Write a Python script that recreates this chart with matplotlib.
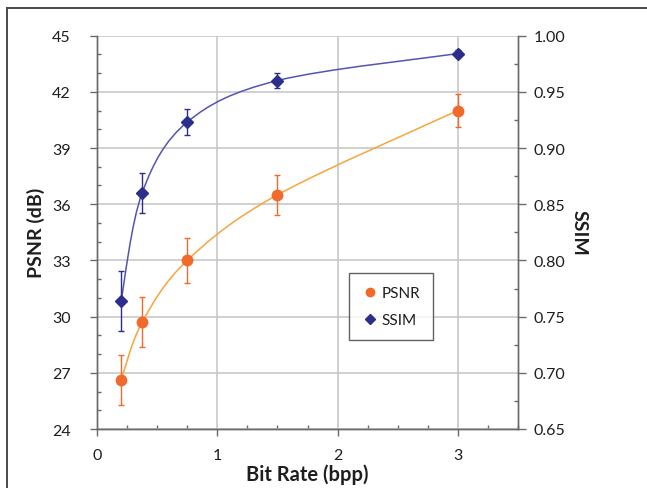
import numpy as np
import matplotlib
matplotlib.use("Agg")
import matplotlib.pyplot as plt
from matplotlib.path import Path
from matplotlib.patches import PathPatch
from matplotlib.lines import Line2D
from matplotlib.ticker import MultipleLocator, FormatStrFormatter

# Rate-distortion results
bit_rate = [0.2, 0.375, 0.75, 1.5, 3.0]
psnr = [26.6, 29.7, 33.0, 36.5, 41.0]
psnr_err = [1.33, 1.33, 1.2, 1.05, 0.9]
ssim = [0.764, 0.860, 0.923, 0.960, 0.984]
ssim_err = [0.027, 0.0176, 0.0114, 0.0067, 0.003]

psnr_ticks = [24, 27, 30, 33, 36, 39, 42, 45]
ssim_ticks = [0.65, 0.70, 0.75, 0.80, 0.85, 0.90, 0.95, 1.00]
x_ticks = [0, 1, 2, 3]

ORANGE = "#F26A2B"
ORANGE_LINE = "#F9A43C"
NAVY = "#2C2E8E"
NAVY_LINE = "#5454B4"
TXT = "#1e1e1e"
SPINE = "#6a6a6a"

plt.rcParams["font.family"] = ["Lato", "DejaVu Sans"]


def smooth_path(xs, ys):
    """Catmull-Rom style cubic Bezier through the given points."""
    pts = np.column_stack([xs, ys]).astype(float)
    n = len(pts)
    verts = [pts[0]]
    codes = [Path.MOVETO]
    for i in range(n - 1):
        p_prev = pts[i - 1] if i > 0 else pts[i]
        p0, p1 = pts[i], pts[i + 1]
        p_next = pts[i + 2] if i + 2 < n else pts[i + 1]
        c1 = p0 + (p1 - p_prev) / 6.0
        c2 = p1 - (p_next - p0) / 6.0
        verts += [c1, c2, p1]
        codes += [Path.CURVE4] * 3
    return Path(verts, codes)


fig = plt.figure(figsize=(6.47, 4.89), dpi=100)
ax = fig.add_axes([97 / 647, 1 - 430 / 489, (518 - 97) / 647, (430 - 36.6) / 489])
ax2 = ax.twinx()

# grid
ax.set_axisbelow(True)
ax.grid(True, which="major", color="#c4c4c4", linewidth=1.1)

# PSNR on the left axis
ax.add_patch(PathPatch(smooth_path(bit_rate, psnr), facecolor="none",
                       edgecolor=ORANGE_LINE, linewidth=1.1, zorder=3))
ax.errorbar(bit_rate, psnr, yerr=psnr_err, fmt="none", ecolor=ORANGE,
            elinewidth=1.0, capsize=2.5, capthick=1.0, zorder=4)
ax.plot(bit_rate, psnr, linestyle="none", marker="o", markersize=7.5,
        color=ORANGE, zorder=5, label="PSNR")

# SSIM on the right axis
ax2.add_patch(PathPatch(smooth_path(bit_rate, ssim), facecolor="none",
                        edgecolor=NAVY_LINE, linewidth=1.1, zorder=3))
ax2.errorbar(bit_rate, ssim, yerr=ssim_err, fmt="none", ecolor=NAVY,
             elinewidth=1.0, capsize=2.5, capthick=1.0, zorder=4)
ax2.plot(bit_rate, ssim, linestyle="none", marker="D", markersize=6.5,
         color=NAVY, zorder=5, label="SSIM")

ax.set_xlim(0, 3.5)
ax.set_ylim(24, 45)
ax2.set_ylim(0.65, 1.00)
ax.set_xticks(x_ticks)
ax.set_yticks(psnr_ticks)
ax2.set_yticks(ssim_ticks)
ax2.yaxis.set_major_formatter(FormatStrFormatter("%.2f"))
ax.xaxis.set_minor_locator(MultipleLocator(0.25))
ax.yaxis.set_minor_locator(MultipleLocator(1))
ax2.yaxis.set_minor_locator(MultipleLocator(0.025))

for a in (ax, ax2):
    a.spines["top"].set_visible(False)
    for side in ("left", "right", "bottom"):
        a.spines[side].set_color(SPINE)
        a.spines[side].set_linewidth(1.0)

ax.tick_params(axis="both", which="major", direction="out", length=5,
               width=1.0, color=SPINE, labelsize=11.5, labelcolor=TXT)
ax.tick_params(axis="y", which="major", pad=14)
ax.tick_params(axis="x", which="major", pad=9)
ax.tick_params(axis="both", which="minor", direction="in", length=3,
               width=1.0, color=SPINE)
ax2.tick_params(axis="y", which="major", direction="out", length=6,
                width=1.0, color=SPINE, labelsize=11.5, labelcolor=TXT, pad=5)
ax2.tick_params(axis="y", which="minor", direction="in", length=3,
                width=1.0, color=SPINE)

ax.set_xlabel("Bit Rate (bpp)", fontsize=14.5, fontweight="bold", color=TXT,
              labelpad=1)
ax.set_ylabel("PSNR (dB)", fontsize=14, fontweight="bold", color=TXT,
              labelpad=5)
ax2.set_ylabel("SSIM", fontsize=14, fontweight="bold", color=TXT,
               rotation=-90, labelpad=16)

h1, l1 = ax.get_legend_handles_labels()
h2, l2 = ax2.get_legend_handles_labels()
leg = ax2.legend(h1 + h2, l1 + l2, loc="upper left",
                 bbox_to_anchor=(349 / 647, 1 - 274 / 489),
                 bbox_transform=fig.transFigure, frameon=True, fancybox=False,
                 edgecolor="#3a3a3a", fontsize=11, markerscale=0.8,
                 handlelength=1.0, handletextpad=0.3, labelspacing=0.85,
                 borderpad=0.85, borderaxespad=0)
leg.get_frame().set_linewidth(1.0)
for t in leg.get_texts():
    t.set_color(TXT)

# outer frame (top and left edges)
fig.add_artist(Line2D([7 / 647, 1.0], [1 - 9 / 489, 1 - 9 / 489],
                      transform=fig.transFigure, color="#4a4a4a", linewidth=1.4))
fig.add_artist(Line2D([7 / 647, 7 / 647], [0.0, 1 - 9 / 489],
                      transform=fig.transFigure, color="#4a4a4a", linewidth=1.4))

fig.savefig("out.png", dpi=100, facecolor="white")
